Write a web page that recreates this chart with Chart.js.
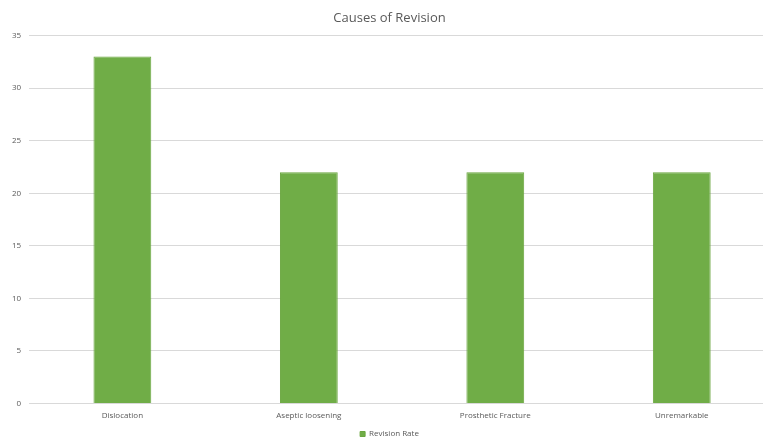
<!DOCTYPE html>
<html>
<head>
<meta charset="utf-8">
<script src="https://cdn.jsdelivr.net/npm/chart.js@4/dist/chart.umd.min.js"></script>
<style>
  html, body { margin: 0; padding: 0; background: #fff; overflow: hidden; }
  #wrap { width: 775px; height: 437px; }
</style>
</head>
<body>
<div id="wrap"><canvas id="chart"></canvas></div>
<script>
const categories = ['Dislocation', 'Aseptic loosening', 'Prosthetic Fracture', 'Unremarkable'];
const revisionRate = [33, 22, 22, 22];
const yTicks = [0, 5, 10, 15, 20, 25, 30, 35];

const textColor = '#595959';
const gridColor = '#d9d9d9';

new Chart(document.getElementById('chart'), {
    type: 'bar',
    data: {
        labels: categories,
        datasets: [
            {
                label: 'Revision Rate',
                data: revisionRate,
                backgroundColor: '#70ad47',
                borderColor: '#6aa63f',
                borderWidth: 1,
                barPercentage: 0.31,
                categoryPercentage: 1
            }
        ]
    },
    options: {
        animation: false,
        responsive: true,
        maintainAspectRatio: false,
        devicePixelRatio: 1,
        layout: {
            padding: { left: 4, right: 0, top: 6, bottom: -11 }
        },
        scales: {
            x: {
                grid: { display: false },
                border: { color: gridColor },
                ticks: {
                    color: textColor,
                    font: { family: 'Open Sans', size: 8 },
                    padding: 0
                }
            },
            y: {
                min: 0,
                max: 35,
                afterBuildTicks: axis => { axis.ticks = yTicks.map(v => ({ value: v })); },
                grid: { color: gridColor, drawTicks: false },
                border: { display: false },
                ticks: {
                    color: textColor,
                    font: { family: 'Open Sans', size: 8 },
                    padding: 8
                }
            }
        },
        plugins: {
            title: {
                display: true,
                text: 'Causes of Revision',
                color: textColor,
                font: { family: 'Open Sans', size: 13, weight: 'normal' },
                padding: { top: 4, bottom: 10 }
            },
            legend: {
                position: 'bottom',
                labels: {
                    color: textColor,
                    font: { family: 'Open Sans', size: 8 },
                    boxWidth: 5,
                    boxHeight: 5,
                    padding: 9
                }
            },
            tooltip: { enabled: false }
        }
    }
});
</script>
</body>
</html>
